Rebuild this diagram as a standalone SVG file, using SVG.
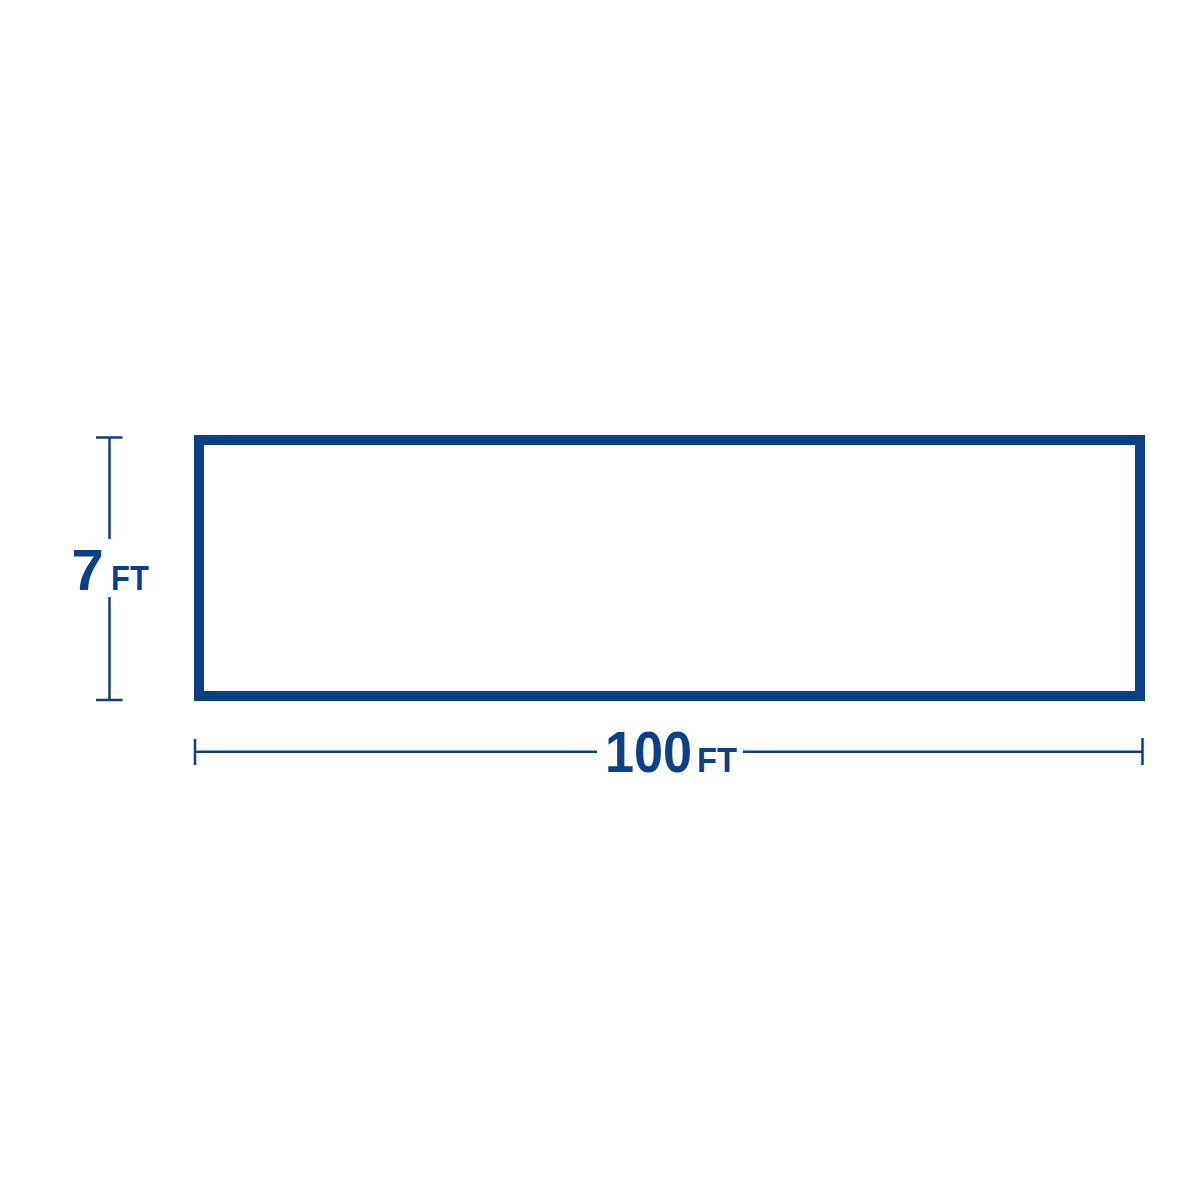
<svg xmlns="http://www.w3.org/2000/svg" width="1200" height="1200" viewBox="0 0 1200 1200">
<style>
.dim{stroke:#0b3f87;stroke-width:2.5;fill:none}
.big{font-family:"Liberation Sans",Arial,sans-serif;font-weight:bold;font-size:58px;fill:#0b3f87}
.sm{font-family:"Liberation Sans",Arial,sans-serif;font-weight:bold;font-size:36px;fill:#0b3f87}
</style>
<rect width="1200" height="1200" fill="#ffffff"/>
<g id="shape">
<rect x="199" y="440" width="941" height="256" fill="none" stroke="#0b3f87" stroke-width="10"/>
</g>
<g id="connectors">
<line class="dim" x1="109.5" y1="437" x2="109.5" y2="539"/>
<line class="dim" x1="109.5" y1="597" x2="109.5" y2="700"/>
<line class="dim" x1="96" y1="437.5" x2="122.5" y2="437.5"/>
<line class="dim" x1="96" y1="700" x2="122.5" y2="700"/>
<line class="dim" x1="195" y1="751.7" x2="597" y2="751.7"/>
<line class="dim" x1="743" y1="751.7" x2="1142.5" y2="751.7"/>
<line class="dim" x1="195" y1="739" x2="195" y2="765"/>
<line class="dim" x1="1142.5" y1="738" x2="1142.5" y2="765"/>
</g>
<g id="label-height">
<text class="big" x="71.5" y="590">7</text>
<text class="sm" transform="translate(111,590) scale(0.86,1)">FT</text>
</g>
<g id="label-width">
<text class="big" transform="translate(605,771.5) scale(0.9,1)">100</text>
<text class="sm" transform="translate(697,772) scale(0.91,1)">FT</text>
</g>
</svg>
